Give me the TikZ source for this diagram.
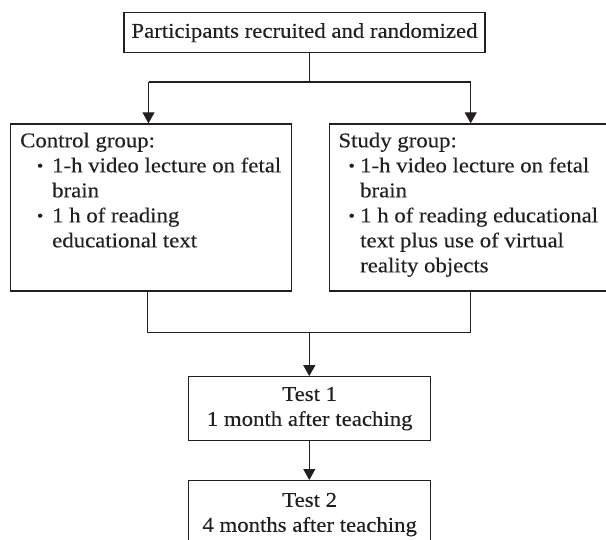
\documentclass[tikz,border=0pt]{standalone}
\usepackage{fontspec}
\setmainfont{Liberation Serif}[FakeStretch=1.085,FakeBold=0.2]
\usetikzlibrary{arrows.meta}
\definecolor{ink}{RGB}{35,31,32}
\tikzset{
  box/.style={draw=ink, line width=1.2pt, rectangle, inner sep=0pt, text=ink},
  conn/.style={draw=ink, line width=1.2pt},
  arr/.style={conn, -{Triangle[length=11pt,width=12pt]}},
  txt/.style={inner sep=0pt, text=ink, anchor=base west}
}
\newcommand{\bul}[1]{\makebox[#1][l]{\raisebox{1pt}{\scalebox{0.8}{\textbullet}}}}
\begin{document}
\begin{tikzpicture}[x=1pt,y=-1pt,font=\fontsize{21}{25}\selectfont]
\useasboundingbox (0,0) rectangle (606,539);
% boxes
\node[box, minimum width=361pt, minimum height=40pt] (top) at (304.5,32.7) {Participants recruited and randomized};
\node[box, anchor=north west, minimum width=280.7pt, minimum height=167pt] (ctrl) at (10,123.3) {};
\node[box, anchor=north west, minimum width=290pt, minimum height=167pt] (study) at (329,123.3) {};
\node[box, align=center, minimum width=242pt, minimum height=64pt] (test1) at (309.7,408.7) {Test 1\\1 month after teaching};
\node[box, align=center, anchor=north, minimum width=242pt, minimum height=68pt] (test2) at (309.7,480) {Test 2\\4 months after teaching};
% texts in group boxes
\node[txt] (ctrltext) at (20,147.3) {\begin{tabular}[t]{@{}l@{}}
Control group:\\
\hspace{16.7pt}\bul{15.3pt}1-h video lecture on fetal\\
\hspace{32pt}brain\\
\hspace{16.7pt}\bul{15.3pt}1 h of reading\\
\hspace{32pt}educational text
\end{tabular}};
\node[txt] (studytext) at (338.3,147.3) {\begin{tabular}[t]{@{}l@{}}
Study group:\\
\hspace{10pt}\bul{11.7pt}1-h video lecture on fetal\\
\hspace{21.7pt}brain\\
\hspace{10pt}\bul{11.7pt}1 h of reading educational\\
\hspace{21.7pt}text plus use of virtual\\
\hspace{21.7pt}reality objects
\end{tabular}};
% connectors
\coordinate (split) at (309.3,82);
\coordinate (la) at (148.5,82);
\coordinate (ra) at (470.7,82);
\draw[conn] (split |- top.south) -- (split);
\draw[conn] (la) -- (ra);
\draw[arr] (la) -- (la |- ctrl.north);
\draw[arr] (ra) -- (ra |- study.north);
\coordinate (lb) at (147.7,332.7);
\coordinate (rb) at (470.7,332.7);
\coordinate (join) at (309.3,332.7);
\draw[conn] (lb |- ctrl.south) -- (lb) -- (rb) -- (rb |- study.south);
\draw[arr] (join) -- (join |- test1.north);
\draw[arr] (join |- test1.south) -- (join |- test2.north);
\end{tikzpicture}
\end{document}
